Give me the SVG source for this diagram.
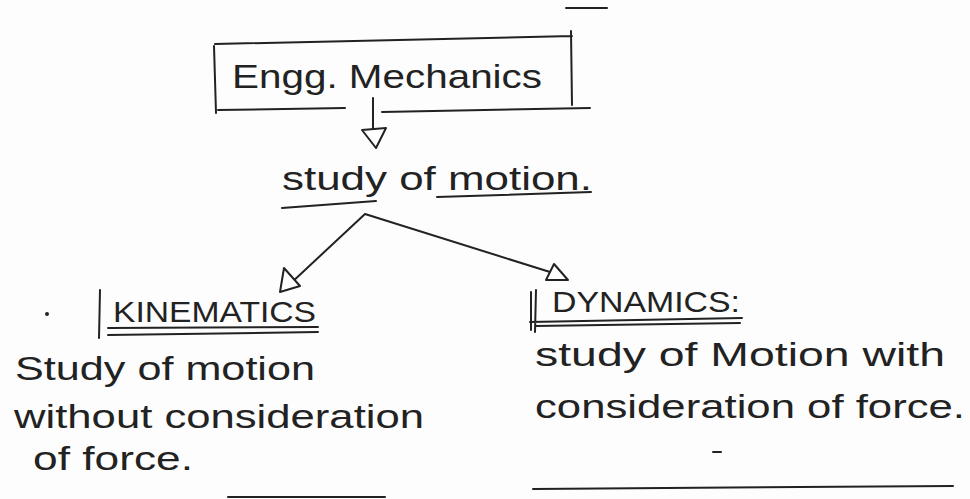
<svg xmlns="http://www.w3.org/2000/svg" width="970" height="499" viewBox="0 0 970 499">
<style>
.t{font-family:"Liberation Sans","DejaVu Sans",sans-serif;fill:#222}
.big{font-size:34px}
.mid{font-size:30px}
.ln{stroke:#222;stroke-width:2;fill:none;stroke-linecap:round}
.ah{stroke:#222;stroke-width:2;fill:#fff;stroke-linejoin:round}
</style>
<rect width="970" height="499" fill="#fdfdfd"/>
<g id="mechanics">
<path class="ln" d="M215 44 L572 36 M214 46 L216 113 M571 31 L572 105 M218 110 L345 108 M382 112 L590 108"/>
<text class="t big" x="232" y="88" textLength="310" lengthAdjust="spacingAndGlyphs">Engg. Mechanics</text>
</g>
<g id="study">
<text class="t big" x="282" y="190" textLength="310" lengthAdjust="spacingAndGlyphs">study of motion.</text>
<path class="ln" d="M282 208 L376 201 M437 197 L591 192"/>
</g>
<g id="kinematics">
<circle cx="47" cy="314" r="2" fill="#222"/>
<path class="ln" d="M100 290 L99 338 M108 328 L318 327 M108 335 L318 332"/>
<text class="t mid" x="113" y="322" textLength="203" lengthAdjust="spacingAndGlyphs">KINEMATICS</text>
<text class="t big" x="15" y="380" textLength="300" lengthAdjust="spacingAndGlyphs">Study of motion</text>
<text class="t big" x="14" y="428" textLength="410" lengthAdjust="spacingAndGlyphs">without consideration</text>
<text class="t big" x="33" y="470" textLength="160" lengthAdjust="spacingAndGlyphs">of force.</text>
</g>
<g id="dynamics">
<path class="ln" d="M531 292 L531 330 M536 290 L535 332 M530 322 L742 318 M535 326 L740 323"/>
<text class="t mid" x="552" y="312" textLength="188" lengthAdjust="spacingAndGlyphs">DYNAMICS:</text>
<text class="t big" x="535" y="366" textLength="410" lengthAdjust="spacingAndGlyphs">study of Motion with</text>
<text class="t big" x="535" y="418" textLength="430" lengthAdjust="spacingAndGlyphs">consideration of force.</text>
<path class="ln" d="M713 452 L721 452"/>
</g>
<g id="connectors">
<path class="ln" d="M373 98 L373 130"/>
<polygon class="ah" points="362,130 386,128 376,148"/>
<path class="ln" d="M365 214 L290 284 M365 214 L550 272"/>
<polygon class="ah" points="284,268 300,286 280,292"/>
<polygon class="ah" points="554,264 568,280 546,280"/>
</g>
<g id="marks">
<path class="ln" d="M566 8 L607 8"/>
<path class="ln" d="M228 497 L385 497 M533 489 L953 486"/>
</g>
</svg>
